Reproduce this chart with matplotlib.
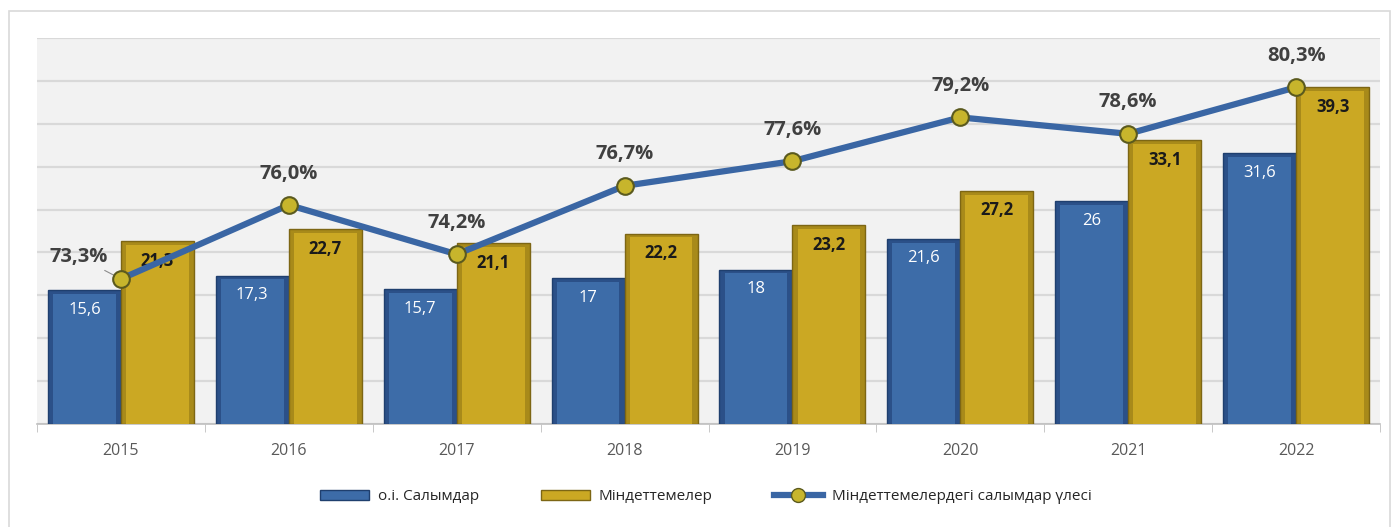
import numpy as np
import matplotlib.pyplot as plt
from matplotlib.patches import Rectangle
from matplotlib.lines import Line2D

plt.rcParams['font.family'] = ['Open Sans', 'DejaVu Sans']

years = ['2015', '2016', '2017', '2018', '2019', '2020', '2021', '2022']
deposits = [15.6, 17.3, 15.7, 17.0, 18.0, 21.6, 26.0, 31.6]
liabilities = [21.3, 22.7, 21.1, 22.2, 23.2, 27.2, 33.1, 39.3]
share = [73.3, 76.0, 74.2, 76.7, 77.6, 79.2, 78.6, 80.3]

dep_labels = ['15,6', '17,3', '15,7', '17', '18', '21,6', '26', '31,6']
liab_labels = ['21,3', '22,7', '21,1', '22,2', '23,2', '27,2', '33,1', '39,3']
share_labels = ['73,3%', '76,0%', '74,2%', '76,7%', '77,6%', '79,2%', '78,6%', '80,3%']

blue = '#3d6ca8'
blue_dark = '#2b5088'
blue_edge = '#1f3f6e'
gold = '#cba823'
gold_dark = '#a88a1a'
gold_edge = '#7d6614'
line_col = '#3a66a4'

fig = plt.figure(figsize=(13.98, 5.27), dpi=100)
fig.patch.set_facecolor('white')

# outer frame
fig.add_artist(Rectangle((9 / 1398, -0.01), 1381 / 1398, 1 - 11 / 527 + 0.01,
                         transform=fig.transFigure, fill=False,
                         edgecolor='#d9d9d9', linewidth=1.2))

ax = fig.add_axes([37 / 1398, 103 / 527, 1343 / 1398, 386 / 527])
ax.set_facecolor('#f2f2f2')

x = np.arange(len(years))
w = 0.435
inner = 0.86
bevel = 0.45

# outer (bevel) bars then inner face
ax.bar(x - w / 2, deposits, w, color=blue_dark, edgecolor=blue_edge, linewidth=1.0, zorder=3)
ax.bar(x + w / 2, liabilities, w, color=gold_dark, edgecolor=gold_edge, linewidth=1.0, zorder=3)
ax.bar(x - w / 2, np.array(deposits) - bevel, w * inner, color=blue, linewidth=0, zorder=3.5)
ax.bar(x + w / 2, np.array(liabilities) - bevel, w * inner, color=gold, linewidth=0, zorder=3.5)

for i in range(len(years)):
    ax.text(x[i] - w / 2, deposits[i] - 2.3, dep_labels[i], ha='center', va='center',
            color='white', fontsize=12, zorder=6)
    ax.text(x[i] + w / 2, liabilities[i] - 2.3, liab_labels[i], ha='center', va='center',
            color='#1a1a1a', fontsize=12, fontweight='bold', zorder=6)

ax.set_ylim(0, 45)
ax.set_xlim(-0.5, len(years) - 0.5)
ax.set_yticks(np.arange(0, 46, 5))
ax.yaxis.grid(True, color='#d9d9d9', linewidth=1.6, zorder=0)
ax.set_xticks(x)
ax.set_xticklabels(years, fontsize=11.5, color='#595959')
ax.tick_params(axis='x', length=0, pad=14)
ax.set_xticks(np.arange(-0.5, len(years), 1), minor=True)
ax.tick_params(axis='x', which='minor', length=6, color='#bfbfbf')
for s in ['top', 'right', 'left']:
    ax.spines[s].set_visible(False)
ax.spines['bottom'].set_color('#bfbfbf')
ax.spines['bottom'].set_linewidth(1.2)

ax2 = ax.twinx()
ax2.set_ylim(68, 82.1)
ax2.plot(x, share, color=line_col, linewidth=4.5, marker='o', markersize=12,
         markerfacecolor='#c7b52c', markeredgecolor='#5b5a1e', markeredgewidth=1.5,
         zorder=5, solid_capstyle='round')
ax2.axis('off')
ax.tick_params(axis='y', left=False, right=False, labelleft=False, labelright=False)

for i in range(len(years)):
    if i == 0:
        ax2.annotate(share_labels[i], xy=(x[i], share[i]), xytext=(x[i] - 0.25, share[i] + 0.8),
                     ha='center', va='center', fontsize=14.5, fontweight='bold', color='#404040',
                     arrowprops=dict(arrowstyle='-', color='#8c8c8c', linewidth=0.8,
                                     shrinkA=1, shrinkB=6), zorder=4)
    else:
        ax2.text(x[i], share[i] + 1.15, share_labels[i], ha='center', va='center',
                 fontsize=14.5, fontweight='bold', color='#404040')

# legend
handles = [Rectangle((0, 0), 1, 1, facecolor=blue, edgecolor=blue_edge),
           Rectangle((0, 0), 1, 1, facecolor=gold, edgecolor=gold_edge),
           Line2D([0], [0], color=line_col, linewidth=4.5, marker='o', markersize=10,
                  markerfacecolor='#c7b52c', markeredgecolor='#5b5a1e')]
leg = fig.legend(handles, ['о.і. Салымдар', 'Міндеттемелер', 'Міндеттемелердегі салымдар үлесі'],
                 loc='center', bbox_to_anchor=(0.505, 30 / 527), ncol=3, frameon=False,
                 fontsize=11, handlelength=3.2, handleheight=0.6, columnspacing=4.0,
                 handletextpad=0.6)
for t in leg.get_texts():
    t.set_color('#262626')

fig.savefig('out.png', dpi=100)
